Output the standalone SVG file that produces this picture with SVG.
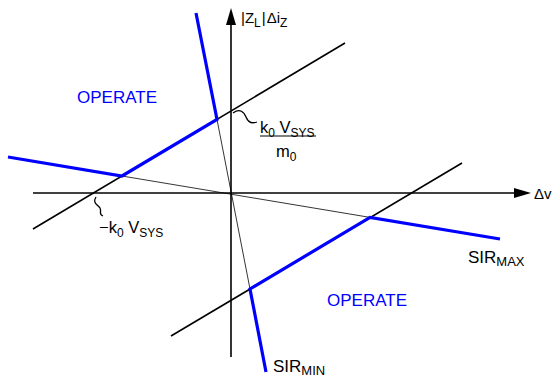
<svg xmlns="http://www.w3.org/2000/svg" width="553" height="388" viewBox="0 0 553 388">
<style>
.ax{stroke:#000;stroke-width:1.6;fill:none}
.bk{stroke:#000;stroke-width:1.6;fill:none}
.th{stroke:#000;stroke-width:0.8;fill:none}
.bl{stroke:#0000ff;stroke-width:3.2;fill:none;stroke-linejoin:miter}
.sq{stroke:#000;stroke-width:1.3;fill:none}
text{font-family:"Liberation Sans",Arial,sans-serif;fill:#000}
.op{fill:#0000ff;font-size:17px}
.lb{font-size:16.5px}
.sub{font-size:12px}
</style>
<g id="connectors">
<line class="ax" x1="231" y1="357" x2="231" y2="22"/>
<polygon points="231,8 226,25 236,25" fill="#000"/>
<line class="ax" x1="33" y1="193" x2="516" y2="193"/>
<polygon points="531,193 514,188 514,198" fill="#000"/>
<line class="bk" x1="33" y1="229" x2="345" y2="43"/>
<line class="bk" x1="171" y1="336" x2="462" y2="163"/>
<line class="th" x1="122" y1="176" x2="370" y2="217.4"/>
<line class="th" x1="217" y1="119.5" x2="250" y2="289"/>
<polyline class="bl" points="8,157 122,176 217,119.5 196,13"/>
<polyline class="bl" points="500,239 370,217.4 250,289 266,372"/>
<path class="sq" d="M233,113 C240,108 244,112 246,117 C248,122 252,124 257,122"/>
<path class="sq" d="M96,197 C92,203 98,205 100,208 C102,212 98,214 103,216"/>
</g>
<g id="axis-y-label"><text x="241" y="23" font-size="15">|Z<tspan class="sub" dy="4">L</tspan><tspan dy="-4" dx="1">|</tspan><tspan dx="1">Δi</tspan><tspan class="sub" dy="4">Z</tspan></text></g>
<g id="axis-x-label"><text x="534" y="199" font-size="15">Δv</text></g>
<g id="operate-upper"><text class="op" x="77" y="103">OPERATE</text></g>
<g id="operate-lower"><text class="op" x="327" y="306">OPERATE</text></g>
<g id="k0vsys-m0">
<text class="lb" x="260" y="133">k<tspan class="sub" dy="4">0</tspan><tspan dy="-4"> V</tspan><tspan class="sub" dy="4">SYS</tspan></text>
<line x1="260" y1="136" x2="316" y2="136" stroke="#000" stroke-width="1"/>
<text class="lb" x="276" y="157">m<tspan class="sub" dy="4">0</tspan></text>
</g>
<g id="neg-k0vsys"><text class="lb" x="99" y="233">−k<tspan class="sub" dy="4">0</tspan><tspan dy="-4"> V</tspan><tspan class="sub" dy="4">SYS</tspan></text></g>
<g id="sir-max"><text x="468" y="263" font-size="17">SIR<tspan font-size="13" dy="3">MAX</tspan></text></g>
<g id="sir-min"><text x="273" y="372" font-size="17">SIR<tspan font-size="13" dy="3">MIN</tspan></text></g>
</svg>
